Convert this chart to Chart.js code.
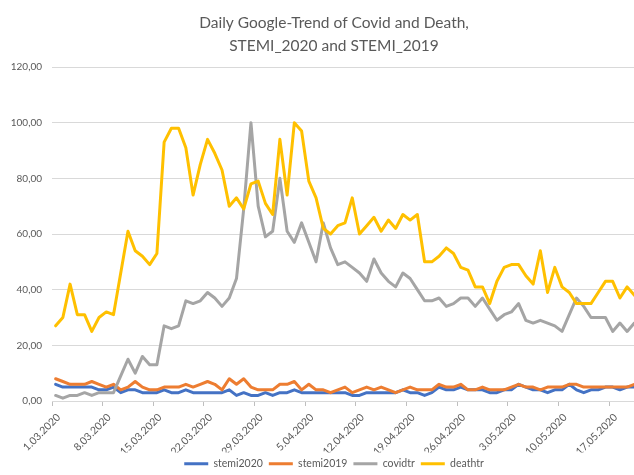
<!DOCTYPE html>
<html>
<head>
<meta charset="utf-8">
<title>Daily Google-Trend of Covid and Death, STEMI_2020 and STEMI_2019</title>
<script src="https://cdn.jsdelivr.net/npm/chart.js@4.4.1/dist/chart.umd.min.js"></script>
<style>
  html, body { margin: 0; padding: 0; background: #ffffff; overflow: hidden; }
  #wrap { position: relative; width: 668px; height: 479px; }
</style>
</head>
<body>
<div id="wrap"><canvas id="chart"></canvas></div>
<script>
// Days from 1 March to 20 May 2020
const dates = [
  '1.03.2020','2.03.2020','3.03.2020','4.03.2020','5.03.2020','6.03.2020','7.03.2020',
  '8.03.2020','9.03.2020','10.03.2020','11.03.2020','12.03.2020','13.03.2020','14.03.2020',
  '15.03.2020','16.03.2020','17.03.2020','18.03.2020','19.03.2020','20.03.2020','21.03.2020',
  '22.03.2020','23.03.2020','24.03.2020','25.03.2020','26.03.2020','27.03.2020','28.03.2020',
  '29.03.2020','30.03.2020','31.03.2020','1.04.2020','2.04.2020','3.04.2020','4.04.2020',
  '5.04.2020','6.04.2020','7.04.2020','8.04.2020','9.04.2020','10.04.2020','11.04.2020',
  '12.04.2020','13.04.2020','14.04.2020','15.04.2020','16.04.2020','17.04.2020','18.04.2020',
  '19.04.2020','20.04.2020','21.04.2020','22.04.2020','23.04.2020','24.04.2020','25.04.2020',
  '26.04.2020','27.04.2020','28.04.2020','29.04.2020','30.04.2020','1.05.2020','2.05.2020',
  '3.05.2020','4.05.2020','5.05.2020','6.05.2020','7.05.2020','8.05.2020','9.05.2020',
  '10.05.2020','11.05.2020','12.05.2020','13.05.2020','14.05.2020','15.05.2020','16.05.2020',
  '17.05.2020','18.05.2020','19.05.2020','20.05.2020'
];

const stemi2020 = [
  6,5,5,5,5,5,4,4,5,3,
  4,4,3,3,3,4,3,3,4,3,
  3,3,3,3,4,2,3,2,2,3,
  2,3,3,4,3,3,3,3,3,3,
  3,2,2,3,3,3,3,3,4,3,
  3,2,3,5,4,4,5,4,4,4,
  3,3,4,4,6,5,4,4,3,4,
  4,6,4,3,4,4,5,5,4,5,
  5
];

const stemi2019 = [
  8,7,6,6,6,7,6,5,6,4,
  5,7,5,4,4,5,5,5,6,5,
  6,7,6,4,8,6,8,5,4,4,
  4,6,6,7,4,6,4,4,3,4,
  5,3,4,5,4,5,4,3,4,5,
  4,4,4,6,5,5,6,4,4,5,
  4,4,4,5,6,5,5,4,5,5,
  5,6,6,5,5,5,5,5,5,5,
  6
];

const covidtr = [
  2,1,2,2,3,2,3,3,3,9,
  15,10,16,13,13,27,26,27,36,35,
  36,39,37,34,37,44,69,100,70,59,
  61,80,61,57,64,57,50,64,55,49,
  50,48,46,43,51,46,43,41,46,44,
  40,36,36,37,34,35,37,37,34,37,
  33,29,31,32,35,29,28,29,28,27,
  25,31,37,34,30,30,30,25,28,25,
  28
];

const deathtr = [
  27,30,42,31,31,25,30,32,31,46,
  61,54,52,49,53,93,98,98,91,74,
  85,94,89,83,70,73,69,78,79,71,
  67,94,74,100,97,79,73,62,60,63,
  64,73,60,63,66,61,65,62,67,65,
  67,50,50,52,55,53,48,47,41,41,
  35,43,48,49,49,45,42,54,39,48,
  41,39,35,35,35,39,43,43,37,41,
  38
];

const yTickValues = [0, 20, 40, 60, 80, 100, 120];
const labelEvery = 7;

const textColor = '#595959';
const gridColor = '#D9D9D9';

Chart.defaults.font.family = 'Lato, "Open Sans", "Liberation Sans", sans-serif';
Chart.defaults.color = textColor;

function series(label, data, color, order) {
  return {
    label, data, order,
    borderColor: color,
    backgroundColor: color,
    borderWidth: 3,
    pointRadius: 0,
    pointHoverRadius: 0,
    tension: 0,
    fill: false,
    borderJoinStyle: 'round',
    borderCapStyle: 'round'
  };
}

new Chart(document.getElementById('chart'), {
  type: 'line',
  data: {
    labels: dates,
    datasets: [
      series('stemi2020', stemi2020, '#4472C4', 3),
      series('stemi2019', stemi2019, '#ED7D31', 2),
      series('covidtr', covidtr, '#A5A5A5', 1),
      series('deathtr', deathtr, '#FFC000', 0)
    ]
  },
  options: {
    responsive: true,
    maintainAspectRatio: false,
    devicePixelRatio: 1,
    animation: false,
    layout: { padding: 0 },
    plugins: {
      tooltip: { enabled: false },
      title: {
        display: true,
        text: ['Daily Google-Trend of Covid and Death,', 'STEMI_2020 and STEMI_2019'],
        color: textColor,
        font: { size: 15.5, weight: 'normal', lineHeight: '23px' },
        padding: { top: 11.5, bottom: 9.5 }
      },
      legend: {
        position: 'bottom',
        labels: {
          usePointStyle: true,
          pointStyle: 'line',
          pointStyleWidth: 24,
          boxHeight: 11,
          padding: 6,
          color: textColor,
          font: { size: 10.5 },
          sort: (a, b) => a.datasetIndex - b.datasetIndex
        }
      }
    },
    scales: {
      x: {
        type: 'category',
        offset: true,
        grid: {
          offset: true,
          drawOnChartArea: false,
          drawTicks: true,
          tickLength: 5,
          color: c => (c.index % labelEvery === 0 ? '#BFBFBF' : 'rgba(0,0,0,0)')
        },
        border: { display: true, color: gridColor, width: 1 },
        ticks: {
          autoSkip: false,
          minRotation: 45,
          maxRotation: 45,
          padding: 5,
          labelOffset: 3,
          color: textColor,
          font: { size: 10.5 },
          callback: (v, i) => (i % labelEvery === 0 ? dates[i] : '')
        },
        afterFit: s => { s.height = 51.5; }
      },
      y: {
        min: 0,
        max: 120,
        afterBuildTicks: s => { s.ticks = yTickValues.map(v => ({ value: v })); },
        ticks: {
          padding: 10,
          color: textColor,
          font: { size: 10 },
          callback: v => Number(v).toFixed(2).replace('.', ',')
        },
        grid: { color: gridColor, drawTicks: false },
        border: { display: false },
        afterFit: s => { s.width = 52; }
      },
      // empty right-hand margin of the plot area
      yRight: {
        position: 'right',
        display: true,
        grid: { display: false, drawTicks: false },
        border: { display: false },
        ticks: { display: false },
        afterFit: s => { s.width = 30; }
      }
    }
  }
});
</script>
</body>
</html>
